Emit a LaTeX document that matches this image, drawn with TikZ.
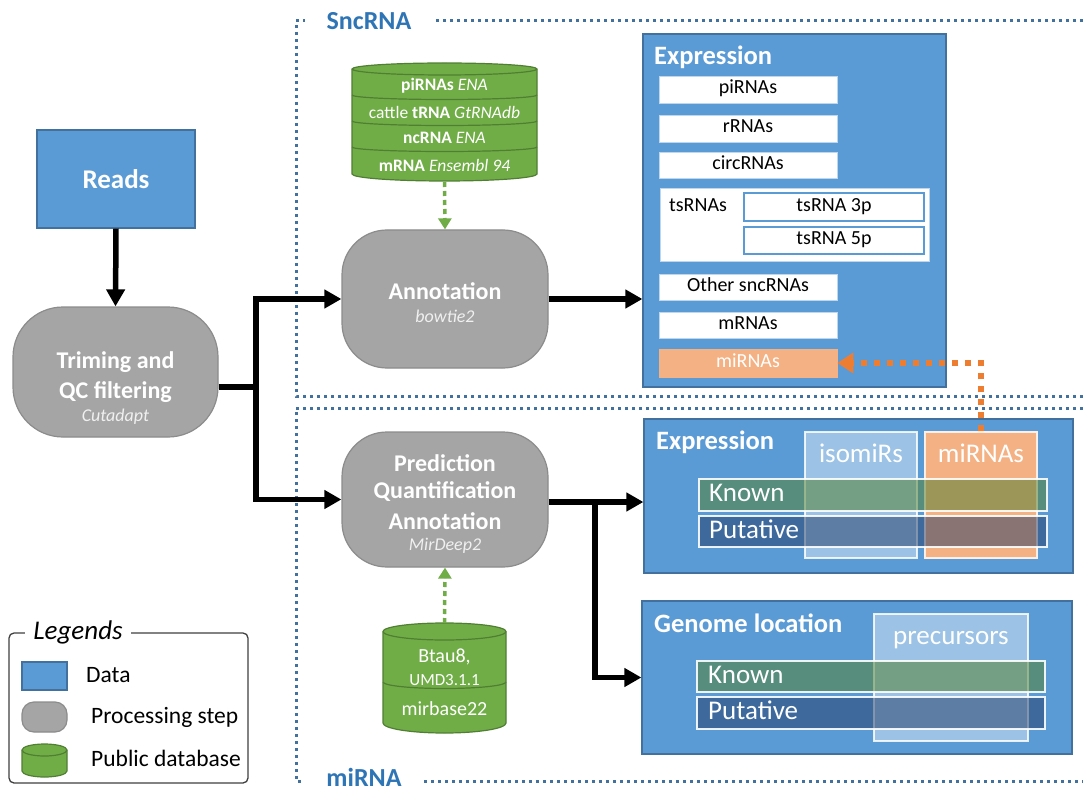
\documentclass[tikz,border=0pt]{standalone}
\usepackage{fontspec}
\setmainfont{Carlito}
\usetikzlibrary{arrows.meta,fit}
\definecolor{dblue}{HTML}{5B9BD5}
\definecolor{dblueb}{HTML}{41719C}
\definecolor{pgray}{HTML}{A5A5A5}
\definecolor{pgrayb}{HTML}{8C8C8C}
\definecolor{dgreen}{HTML}{70AD47}
\definecolor{dgreenb}{HTML}{507E32}
\definecolor{lorange}{HTML}{F4B183}
\definecolor{aorange}{HTML}{ED7D31}
\definecolor{ftext}{HTML}{2E75B6}
\definecolor{fline}{HTML}{41719C}
\definecolor{kgreen}{HTML}{548235}
\definecolor{pblue}{HTML}{203864}
\definecolor{lbord}{HTML}{BDD7EE}
\newcommand\fsz[1]{\fontsize{#1pt}{#1pt}\selectfont}
\begin{document}
\begin{tikzpicture}[x=1pt,y=-1pt,
  datab/.style={draw=dblueb, line width=1.2pt, fill=dblue, inner sep=0pt},
  proc/.style={fill=pgray, draw=pgrayb, line width=1.2pt, inner sep=0pt},
  ptext/.style={text=white, font=\fsz{24}\bfseries, inner sep=0pt},
  pit/.style={text=white!94!black, font=\fsz{18}\itshape, inner sep=0pt},
  wbox/.style={draw=lbord, line width=0.8pt, fill=white, inner sep=0pt},
  wtext/.style={font=\fsz{20}, inner sep=0pt, text height=13pt, text depth=4pt},
  tsb/.style={wbox, draw=dblue, line width=1.5pt},
  obox/.style={wbox, fill=lorange, draw=lorange},
  bigb/.style={text=white, font=\fsz{26.5}\bfseries, inner sep=0pt, anchor=west},
  bigt/.style={text=white, font=\fsz{27}, inner sep=0pt, text height=19pt, text depth=6pt},
  isob/.style={fill=white, fill opacity=0.4, draw=white, draw opacity=0.85, line width=1.5pt, inner sep=0pt},
  mirb/.style={fill=lorange, draw=white!80!lorange, line width=1.5pt, inner sep=0pt},
  knownb/.style={fill=kgreen, fill opacity=0.55, draw=white, draw opacity=0.9, line width=1.5pt, inner sep=0pt},
  putab/.style={fill=pblue, fill opacity=0.5, draw=white, draw opacity=0.9, line width=1.5pt, inner sep=0pt},
  dbfill/.style={fill=dgreen, draw=dgreenb, line width=1.2pt},
  dbline/.style={draw=dgreenb, line width=1.2pt},
  dbt/.style={text=white, font=\fsz{17.5}, inner sep=0pt},
  fr/.style={fline, line width=3pt, dash pattern=on 3pt off 4pt},
  frt/.style={text=ftext, font=\fsz{26}\bfseries, fill=white, inner xsep=22pt, inner ysep=0pt},
  blk/.style={line width=5.5pt, -{Triangle[length=17pt,width=18pt]}},
  gdot/.style={dgreen, line width=3.5pt, dash pattern=on 5pt off 4pt, -{Triangle[length=11pt,width=13pt]}},
  odot/.style={aorange, line width=6pt, dash pattern=on 6pt off 7pt, -{Triangle[length=16pt,width=20pt]}},
  lgt/.style={font=\fsz{23.5}, inner sep=0pt, anchor=west}
]
\fill[white] (0,0) rectangle (1083,791);
\useasboundingbox (0,0) rectangle (1083,791);

% frames
\draw[fr] (1083,21) -- (296,21) -- (296,396) -- (1083,396);
\node[frt] (snc) at (369,21) {SncRNA};
\draw[fr] (1083,408) -- (296,408) -- (296,781) -- (1083,781);
\node[frt] (mirna) at (364,777) {miRNA};

% reads & trimming
\node[datab, fit={(37,130)(195,228)}] (reads) {};
\node[text=white, font=\fsz{27}\bfseries, inner sep=0pt] at (116,179) {Reads};
\node[proc, rounded corners=50pt, fit={(13,307)(218,437)}] (trim) {};
\node[ptext] at (115.5,362) {Triming and};
\node[ptext] at (115.5,392) {QC filtering};
\node[pit] at (115.5,417) {Cutadapt};

% annotation & prediction
\node[proc, rounded corners=45pt, fit={(342,230)(548,368)}] (ann) {};
\node[ptext] at (445,291) {Annotation};
\node[pit] at (445,316) {bowtie2};
\node[proc, rounded corners=45pt, fit={(342,432)(548,567)}] (pred) {};
\node[ptext] at (445,463) {Prediction};
\node[ptext] at (445,492) {Quantification};
\node[ptext] at (445,521) {Annotation};
\node[pit] at (445,546) {MirDeep2};

% top database
\draw[dbfill] (352,69) -- (352,174) arc[start angle=180,end angle=360,x radius=92.5pt,y radius=7pt]
  -- (537,69) arc[start angle=0,end angle=180,x radius=92.5pt,y radius=6pt] -- cycle;
\draw[dbline] (352,69) arc[start angle=180,end angle=360,x radius=92.5pt,y radius=6pt];
\draw[dbline] (352,95) arc[start angle=180,end angle=360,x radius=92.5pt,y radius=4.5pt];
\draw[dbline] (352,121) arc[start angle=180,end angle=360,x radius=92.5pt,y radius=4.5pt];
\draw[dbline] (352,147) arc[start angle=180,end angle=360,x radius=92.5pt,y radius=4.5pt];
\node[dbt] at (444.5,86) {\textbf{piRNAs} \textit{ENA}};
\node[dbt] at (444.5,112) {cattle \textbf{tRNA} \textit{GtRNAdb}};
\node[dbt] at (444.5,138) {\textbf{ncRNA} \textit{ENA}};
\node[dbt] at (444.5,165) {\textbf{mRNA} \textit{Ensembl 94}};
\coordinate (db1) at (444.5,182);

% bottom database
\draw[dbfill] (383,631.5) -- (383,723) arc[start angle=180,end angle=360,x radius=61.5pt,y radius=10pt]
  -- (506,631.5) arc[start angle=0,end angle=180,x radius=61.5pt,y radius=8.5pt] -- cycle;
\draw[dbline] (383,631.5) arc[start angle=180,end angle=360,x radius=61.5pt,y radius=8.5pt];
\draw[dbline] (383,682) arc[start angle=180,end angle=360,x radius=61.5pt,y radius=6.5pt];
\node[dbt, font=\fsz{20}] at (444.5,657) {Btau8,};
\node[dbt, font=\fsz{17}] at (444.5,680) {UMD3.1.1};
\node[dbt, font=\fsz{20}] at (444.5,709) {mirbase22};
\coordinate (db2) at (444.5,623);

% expression 1
\node[datab, fit={(643,34)(946,387)}] (expr1) {};
\node[bigb] at (654,57) {Expression};
\node[wbox, fit={(659,76)(837,103)}] (pir) {};
\node[wtext] at (pir) {piRNAs};
\node[wbox, fit={(659,115)(837,142)}] (rr) {};
\node[wtext] at (rr) {rRNAs};
\node[wbox, fit={(659,152)(837,178)}] (circ) {};
\node[wtext] at (circ) {circRNAs};
\node[wbox, fit={(660,188)(929,261)}] (tsg) {};
\node[wtext, anchor=west] at (669,207) {tsRNAs};
\node[tsb, fit={(744,193)(924,221)}] (ts3) {};
\node[wtext] at (ts3) {tsRNA 3p};
\node[tsb, fit={(744,227)(924,254)}] (ts5) {};
\node[wtext] at (ts5) {tsRNA 5p};
\node[wbox, fit={(659,274)(837,300)}] (oth) {};
\node[wtext] at (oth) {Other sncRNAs};
\node[wbox, fit={(659,312)(837,338)}] (mrn) {};
\node[wtext] at (mrn) {mRNAs};
\node[obox, fit={(659,349)(837,377)}] (mir1) {};
\node[wtext, text=white] at (mir1) {miRNAs};

% expression 2
\node[datab, fit={(644,419)(1073,573)}] (expr2) {};
\node[bigb] at (656,442) {Expression};
\node[isob, fit={(805,432)(917,558)}] (iso) {};
\node[bigt] at (861,456) {isomiRs};
\node[mirb, fit={(925,432)(1037,558)}] (mir2) {};
\node[bigt] at (981,456) {miRNAs};
\node[knownb, fit={(699,479)(1047,511)}] (kn1) {};
\node[bigt, anchor=west] at (709,495) {Known};
\node[putab, fit={(699,516)(1047,547)}] (pu1) {};
\node[bigt, anchor=west] at (709,532) {Putative};

% genome location
\node[datab, fit={(642,601)(1072,754)}] (geno) {};
\node[bigb] at (654,623) {Genome location};
\node[isob, fit={(874,614)(1028,741)}] (prec) {};
\node[bigt] at (951,638) {precursors};
\node[knownb, fit={(697,661)(1045,692)}] (kn2) {};
\node[bigt, anchor=west] at (708,677) {Known};
\node[putab, fit={(697,697)(1045,729)}] (pu2) {};
\node[bigt, anchor=west] at (708,713) {Putative};

% connectors
\draw[blk] (reads.south) -- (trim.north);
\coordinate (j1) at (256,387);
\draw[line width=5.5pt] (trim.east |- j1) -- (j1);
\draw[blk] (j1) -- (j1 |- ann.west) -- (ann.west);
\draw[blk] (j1) -- (j1 |- pred.west) -- (pred.west);
\draw[blk] (ann.east) -- (ann.east -| expr1.west);
\coordinate (j2) at (595,502);
\draw[blk] (j2 -| pred.east) -- (j2 -| expr2.west);
\draw[blk] (j2) -- (j2 |- geno.west) -- (geno.west);
\draw[gdot] (db1) -- (ann.north);
\draw[gdot] (db2) -- (pred.south);
\draw[odot] (mir2.north) -- (mir2.north |- mir1.east) -- (mir1.east);

% legend
\draw[black!75, line width=1.3pt, rounded corners=5pt] (9,633) rectangle (248,783);
\node[fill=white, inner xsep=8pt, inner ysep=0pt, font=\fsz{27}\itshape] (lgtitle) at (78,632) {Legends};
\node[datab, fit={(22,662)(67,690)}] (lgdata) {};
\node[proc, rounded corners=12pt, fit={(22,702)(67,732)}] (lgproc) {};
\draw[dbfill] (22,750) -- (22,771) arc[start angle=180,end angle=360,x radius=22.5pt,y radius=6pt]
  -- (67,750) arc[start angle=0,end angle=180,x radius=22.5pt,y radius=6pt] -- cycle;
\draw[dbline] (22,750) arc[start angle=180,end angle=360,x radius=22.5pt,y radius=6pt];
\node[lgt] at (86,675) {Data};
\node[lgt] at (91,717) {Processing step};
\node[lgt] at (91,758) {Public database};
\end{tikzpicture}
\end{document}
